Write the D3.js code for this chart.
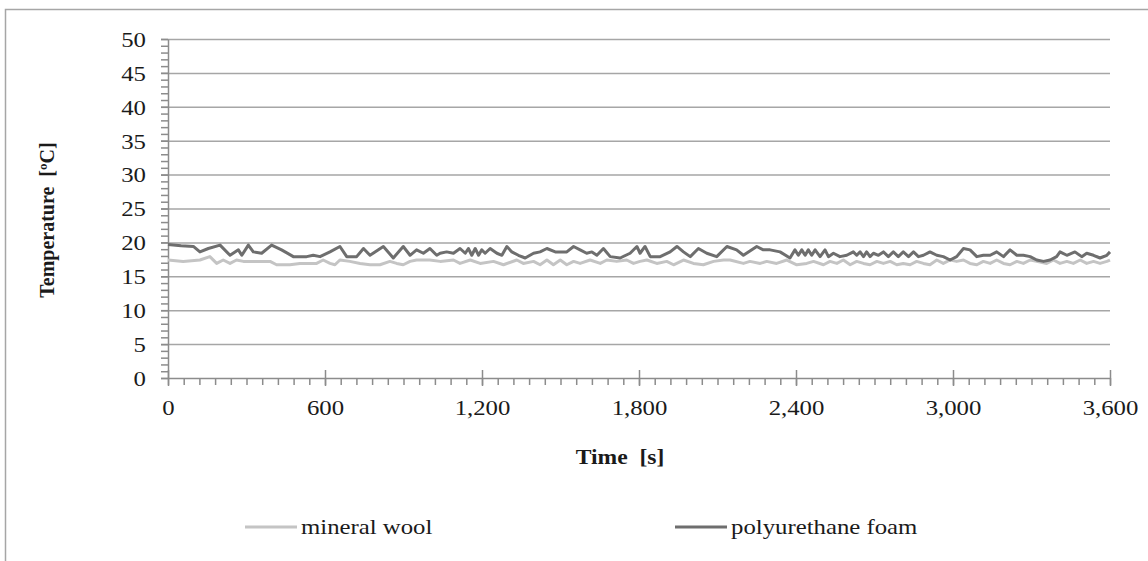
<!DOCTYPE html>
<html>
<head>
<meta charset="utf-8">
<script src="https://cdn.jsdelivr.net/npm/d3@7"></script>
<style>
  body { margin: 0; background: #fff; }
  svg text { font-family: "Liberation Serif", "Times New Roman", serif; fill: #1a1a1a; }
  .grid line { stroke: #a6a6a6; stroke-width: 1.5; }
  .axis path, .axis line { stroke: #8c8c8c; stroke-width: 1.5; }
</style>
</head>
<body>
<script>
// time [s] and temperature [°C]
var woolTime = [0, 58, 122, 160, 186, 211, 237, 262, 288, 313, 350, 390, 415, 466, 504, 568, 593, 619, 638, 657, 695, 734, 772, 810, 848, 874, 899, 925, 950, 1000, 1040,
  1091, 1116, 1155, 1193, 1244, 1282, 1333, 1358, 1397, 1422, 1448, 1473, 1499, 1524, 1550, 1575, 1613, 1652, 1677, 1715, 1753, 1779, 1804, 1830, 1868, 1906, 1932, 1970, 2008, 2046, 2085, 2123,
  2148, 2199, 2224, 2263, 2288, 2326, 2365, 2403, 2441, 2467, 2505, 2530, 2556, 2581, 2607, 2632, 2658, 2683, 2709, 2734, 2760, 2785, 2810, 2836, 2861, 2887, 2912, 2938, 2963, 2989, 3014,
  3040, 3065, 3091, 3116, 3142, 3167, 3193, 3218, 3244, 3269, 3295, 3320, 3358, 3384, 3409, 3435, 3460, 3486, 3511, 3537, 3562, 3588, 3600];
var woolTemp = [17.4, 17.2, 17.4, 17.9, 16.9, 17.4, 16.9, 17.4, 17.2, 17.2, 17.2, 17.2, 16.7, 16.7, 16.9, 16.9, 17.4, 16.9, 16.7, 17.4, 17.2, 16.9, 16.7, 16.7, 17.2, 16.9, 16.7, 17.2, 17.4, 17.4, 17.2,
  17.4, 16.9, 17.4, 16.9, 17.2, 16.7, 17.4, 16.9, 17.2, 16.7, 17.4, 16.7, 17.4, 16.7, 17.2, 16.9, 17.4, 16.9, 17.4, 17.2, 17.4, 16.9, 17.2, 17.4, 16.9, 17.2, 16.7, 17.4, 16.9, 16.7, 17.2, 17.4,
  17.4, 16.9, 17.2, 16.9, 17.2, 16.9, 17.4, 16.7, 16.9, 17.2, 16.7, 17.2, 16.9, 17.4, 16.7, 17.2, 16.9, 16.7, 17.2, 16.9, 17.2, 16.7, 16.9, 16.7, 17.2, 16.9, 16.7, 17.4, 16.9, 17.4, 17.2,
  17.4, 16.9, 16.7, 17.2, 16.9, 17.4, 16.9, 16.7, 17.2, 16.9, 17.4, 17.2, 16.9, 17.4, 16.9, 17.2, 16.9, 17.4, 16.9, 17.2, 16.9, 17.2, 17.4];

var foamTime = [0, 50, 97, 122, 154, 199, 237, 269, 282, 307, 326, 358, 396, 434, 479, 530, 555, 581, 619, 657, 683, 721, 747, 772, 823, 861, 899, 925, 950, 976, 1001, 1027,
  1040, 1065, 1091, 1116, 1136, 1148, 1161, 1174, 1187, 1199, 1212, 1231, 1257, 1276, 1295, 1314, 1339, 1365, 1397, 1422, 1448, 1480, 1524, 1550, 1575, 1600, 1620, 1639, 1664, 1690, 1728,
  1766, 1792, 1804, 1823, 1843, 1881, 1919, 1945, 1970, 1996, 2027, 2059, 2097, 2136,
  2173, 2199, 2250, 2275, 2301, 2339, 2377, 2396, 2409, 2422, 2435, 2447, 2460, 2473, 2492, 2511, 2524, 2543, 2568, 2594, 2619, 2632, 2645, 2658, 2670, 2683, 2696, 2715, 2734, 2753, 2772,
  2791, 2810, 2830, 2849, 2868, 2887, 2912, 2938, 2963, 2989, 3014, 3040, 3065, 3091, 3116, 3142, 3167, 3193, 3218, 3244, 3269, 3295,
  3320, 3346, 3371, 3396, 3409, 3435, 3466, 3492, 3511, 3537, 3562, 3588, 3600];
var foamTemp = [19.7, 19.5, 19.4, 18.6, 19.1, 19.6, 18.1, 18.9, 18.1, 19.6, 18.6, 18.4, 19.6, 18.9, 17.9, 17.9, 18.1, 17.9, 18.6, 19.4, 17.9, 17.9, 19.1, 18.1, 19.4, 17.7, 19.4, 18.1, 18.9, 18.4, 19.1, 18.1,
  18.4, 18.6, 18.4, 19.1, 18.4, 19.1, 18.1, 19.1, 18.1, 18.9, 18.4, 19.1, 18.4, 18.1, 19.4, 18.6, 18.1, 17.7, 18.4, 18.6, 19.1, 18.6, 18.6, 19.4, 18.9, 18.4, 18.6, 18.1, 19.1, 17.9, 17.7,
  18.4, 19.4, 18.4, 19.4, 17.9, 17.9, 18.6, 19.4, 18.6, 17.9, 19.1, 18.4, 17.9, 19.4,
  18.9, 18.1, 19.4, 18.9, 18.9, 18.6, 17.7, 18.9, 18.1, 18.9, 18.1, 18.9, 18.1, 18.9, 17.9, 18.9, 17.9, 18.4, 17.9, 18.1, 18.6, 18.1, 18.6, 17.9, 18.6, 17.9, 18.4, 18.1, 18.6, 17.9, 18.6,
  17.9, 18.6, 17.9, 18.6, 17.9, 18.1, 18.6, 18.1, 17.9, 17.4, 17.9, 19.1, 18.9, 17.9, 18.1, 18.1, 18.6, 17.9, 18.9, 18.1, 18.1, 17.9,
  17.4, 17.2, 17.4, 17.9, 18.6, 18.1, 18.6, 17.9, 18.4, 18.1, 17.7, 18.1, 18.6];

var xTicks = [0, 600, 1200, 1800, 2400, 3000, 3600];
var yTicks = [0, 5, 10, 15, 20, 25, 30, 35, 40, 45, 50];
var seriesNames = ["mineral wool", "polyurethane foam"];
var seriesColors = ["#c4c4c4", "#6e6e6e"];

var W = 1148, H = 561;
var margin = {top: 39, right: 38, bottom: 183, left: 168},
    width = W - margin.left - margin.right,
    height = H - margin.top - margin.bottom;
var stretch = 1.18; // the picture's text is a bit wider than plain Times

var root = d3.select("body").append("svg")
    .attr("width", W)
    .attr("height", H);

// outer chart frame (right and bottom edges are cut off in the picture)
root.append("rect")
    .attr("x", 5.5).attr("y", 9.5)
    .attr("width", W + 20).attr("height", H + 20)
    .attr("fill", "none")
    .attr("stroke", "#a6a6a6")
    .attr("stroke-width", 1.5);

var svg = root.append("g")
    .attr("transform", "translate(" + margin.left + "," + margin.top + ")");

var xScale = d3.scaleLinear().domain([0, 3600]).range([0, width]);
var yScale = d3.scaleLinear().domain([0, 50]).range([height, 0]);

// horizontal gridlines
svg.append("g")
    .attr("class", "grid")
    .call(d3.axisLeft(yScale).tickValues(yTicks.slice(1)).tickSize(-width).tickFormat(""))
    .call(function(g) { g.select(".domain").remove(); });

// minor ticks
svg.append("g")
    .attr("class", "axis")
    .call(d3.axisLeft(yScale).tickValues(d3.range(0, 51, 1)).tickSize(7).tickFormat(""))
    .call(function(g) { g.select(".domain").remove(); });
svg.append("g")
    .attr("class", "axis")
    .attr("transform", "translate(0," + height + ")")
    .call(d3.axisBottom(xScale).tickValues(d3.range(0, 3601, 60)).tickSize(7).tickFormat(""))
    .call(function(g) { g.select(".domain").remove(); });

// y axis
var yAxis = svg.append("g")
    .attr("class", "axis")
    .call(d3.axisLeft(yScale).tickValues(yTicks).tickSize(7).tickSizeOuter(0).tickPadding(15));
yAxis.selectAll("text")
    .attr("font-size", "21px")
    .attr("dy", "0.35em")
    .attr("x", -22 / stretch)
    .attr("transform", "scale(" + stretch + ",1)");

// x axis with crossing major ticks
var xAxis = svg.append("g")
    .attr("class", "axis")
    .attr("transform", "translate(0," + height + ")")
    .call(d3.axisBottom(xScale).tickValues(xTicks).tickSize(8).tickSizeOuter(0).tickPadding(14).tickFormat(d3.format(",")));
xAxis.selectAll(".tick line").attr("y1", -8);
xAxis.selectAll("text")
    .attr("font-size", "21px")
    .attr("transform", "scale(" + stretch + ",1)");

// lines
var lineGen = d3.line()
    .x(function(d) { return xScale(d[0]); })
    .y(function(d) { return yScale(d[1]); });

var series = [d3.zip(woolTime, woolTemp), d3.zip(foamTime, foamTemp)];
series.forEach(function(s, i) {
    svg.append("path")
        .attr("d", lineGen(s))
        .attr("fill", "none")
        .attr("stroke", seriesColors[i])
        .attr("stroke-width", 3)
        .attr("stroke-linejoin", "round");
});

// axis titles
svg.append("text")
    .attr("transform", "translate(452,425) scale(" + stretch + ",1)")
    .attr("text-anchor", "middle")
    .attr("font-size", "20px")
    .attr("font-weight", "bold")
    .style("white-space", "pre")
    .text("Time  [s]");

svg.append("text")
    .attr("transform", "rotate(-90)")
    .attr("x", -181)
    .attr("y", -114)
    .attr("text-anchor", "middle")
    .attr("font-size", "20px")
    .attr("font-weight", "bold")
    .style("white-space", "pre")
    .text("Temperature  [\u00baC]");

// legend
var legendX = [245, 675];
seriesNames.forEach(function(name, i) {
    root.append("line")
        .attr("x1", legendX[i]).attr("x2", legendX[i] + 52)
        .attr("y1", 527).attr("y2", 527)
        .attr("stroke", seriesColors[i])
        .attr("stroke-width", 3);
    root.append("text")
        .attr("transform", "translate(" + (legendX[i] + 56) + ",534) scale(" + stretch + ",1)")
        .attr("font-size", "21px")
        .text(name);
});
</script>
</body>
</html>
